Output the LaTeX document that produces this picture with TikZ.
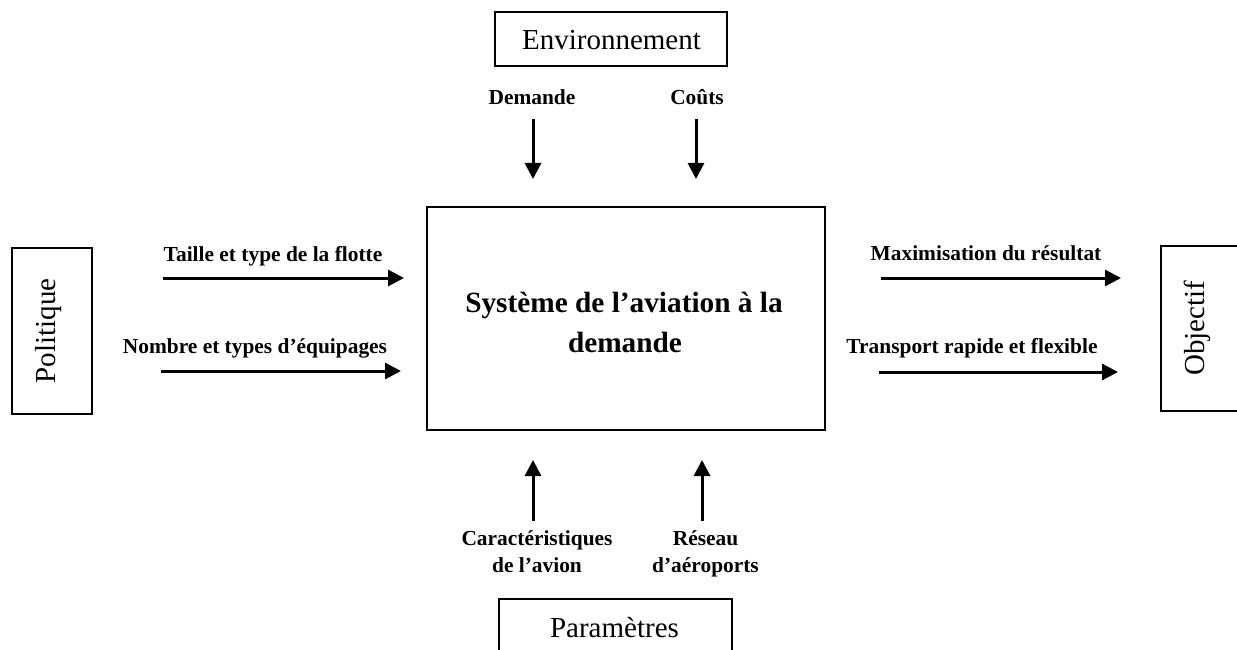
\documentclass[tikz,border=0pt]{standalone}
\usepackage{fontspec}
\setmainfont{Liberation Serif}
\usetikzlibrary{arrows.meta}
\begin{document}
\begin{tikzpicture}[x=1pt,y=-1pt,
  frame/.style={draw,line width=1.7pt},
  plain/.style={font=\fontsize{29}{34}\selectfont,anchor=base},
  lbl/.style={font=\bfseries\fontsize{21.4}{26}\selectfont,anchor=base},
  title/.style={font=\bfseries\fontsize{29.3}{34}\selectfont,anchor=base},
  flow/.style={line width=3pt,-{Triangle[length=16pt,width=16pt]}}]
\useasboundingbox (0,0) rectangle (1237,650);

% outer boxes
\draw[frame] (427,207) rectangle (825,430);
\draw[frame] (495,12) rectangle (727,66);
\draw[frame] (499,599) rectangle (732,665);
\draw[frame] (12,248) rectangle (92,414);
\draw[frame] (1161,246) rectangle (1250,411);

% box texts
\node[title] (sys1) at (624,312) {Système de l’aviation à la};
\node[title] (sys2) at (625,352) {demande};
\node[plain] (env) at (611.5,50) {Environnement};
\node[plain] (par) at (614.5,637) {Paramètres};
\node[plain,anchor=center,rotate=90] (pol) at (49,331) {Politique};
\node[plain,anchor=center,rotate=90] (obj) at (1197,328) {Objectif};

% flow labels
\node[lbl] (l1) at (273,261) {Taille et type de la flotte};
\node[lbl] (l2) at (255,353) {Nombre et types d’équipages};
\node[lbl] (r1) at (986,260) {Maximisation du résultat};
\node[lbl] (r2) at (972,353) {Transport rapide et flexible};
\node[lbl] (t1) at (532,105) {Demande};
\node[lbl] (t2) at (697,105) {Coûts};
\node[lbl] (b1a) at (537,545) {Caractéristiques};
\node[lbl] (b1b) at (537,572) {de l’avion};
\node[lbl] (b2a) at (705.5,545) {Réseau};
\node[lbl] (b2b) at (705.5,572) {d’aéroports};

% arrow end points
\coordinate (l1s) at (163,278);  \coordinate (l1e) at (404,278);
\coordinate (l2s) at (161,371);  \coordinate (l2e) at (401,371);
\coordinate (r1s) at (881,278);  \coordinate (r1e) at (1121,278);
\coordinate (r2s) at (879,372);  \coordinate (r2e) at (1118,372);
\coordinate (t1s) at (533,119);  \coordinate (t1e) at (533,179);
\coordinate (t2s) at (696,119);  \coordinate (t2e) at (696,179);
\coordinate (b1s) at (533,521);  \coordinate (b1e) at (533,460);
\coordinate (b2s) at (702,521);  \coordinate (b2e) at (702,460);

\draw[flow] (l1s) -- (l1e);
\draw[flow] (l2s) -- (l2e);
\draw[flow] (r1s) -- (r1e);
\draw[flow] (r2s) -- (r2e);
\draw[flow] (t1s) -- (t1e);
\draw[flow] (t2s) -- (t2e);
\draw[flow] (b1s) -- (b1e);
\draw[flow] (b2s) -- (b2e);
\end{tikzpicture}
\end{document}
